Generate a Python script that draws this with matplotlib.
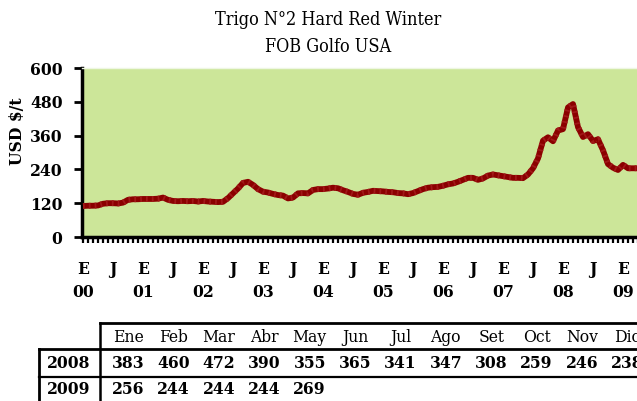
import matplotlib
matplotlib.use("Agg")
import matplotlib.pyplot as plt
from matplotlib.lines import Line2D

W, H = 637, 401

# monthly price, Jan 2000 .. May 2009 (USD/t)
prices_2000 = [110, 111, 111, 112, 118, 120, 120, 119, 122, 132, 134, 134]
prices_2001 = [135, 135, 135, 136, 140, 132, 128, 127, 128, 127, 128, 126]
prices_2002 = [128, 126, 125, 124, 125, 138, 155, 172, 192, 196, 185, 170]
prices_2003 = [161, 158, 153, 149, 147, 137, 140, 155, 156, 155, 167, 170]
prices_2004 = [170, 172, 175, 173, 166, 160, 153, 150, 157, 160, 164, 163]
prices_2005 = [162, 160, 159, 156, 155, 152, 156, 163, 170, 175, 177, 178]
prices_2006 = [182, 187, 190, 196, 203, 210, 210, 203, 208, 218, 222, 219]
prices_2007 = [216, 213, 210, 210, 209, 222, 244, 279, 342, 354, 340, 378]
prices_2008 = [383, 460, 472, 390, 355, 365, 341, 347, 308, 259, 246, 238]
prices_2009 = [256, 244, 244, 244, 269]

months = ["Ene", "Feb", "Mar", "Abr", "May", "Jun",
          "Jul", "Ago", "Set", "Oct", "Nov", "Dic"]
years = ["00", "01", "02", "03", "04", "05", "06", "07", "08", "09"]
yticks = [0, 120, 240, 360, 480, 600]

prices = (prices_2000 + prices_2001 + prices_2002 + prices_2003 + prices_2004
          + prices_2005 + prices_2006 + prices_2007 + prices_2008 + prices_2009)
idx = list(range(len(prices)))

FONT = dict(family="DejaVu Serif", stretch="condensed")
FS = 12.5


def fx(x):
    return x / W


def fy(y):
    return 1 - y / H


fig = plt.figure(figsize=(W / 100, H / 100), dpi=100)
ax = fig.add_axes([fx(82), fy(237), (683 - 82) / W, (237 - 68) / H])
ax.set_facecolor("#cce699")

ax.plot(idx, prices, color="#8b0000", lw=4.2, solid_capstyle="butt", zorder=3)
ax.plot(idx, prices, color="#a01818", lw=4.2, ls=(0, (0.3, 0.7)), zorder=4)

ax.set_xlim(-0.2, 120)
ax.set_ylim(0, 600)
ax.set_yticks(yticks)
ax.set_yticklabels([str(v) for v in yticks], fontsize=FS, fontweight="bold", **FONT)

labels = []
for m in range(121):
    if m % 12 == 0 and m // 12 < len(years):
        labels.append("E\n" + years[m // 12])
    elif m % 12 == 6 and m < 110:
        labels.append("J")
    else:
        labels.append("")
ax.set_xticks(range(121))
ax.set_xticklabels(labels, fontsize=FS, fontweight="bold", **FONT)
for t in ax.get_xticklabels():
    t.set_linespacing(1.5)

ax.tick_params(axis="x", direction="out", length=4, width=1.6, pad=13)
ax.tick_params(axis="y", direction="out", length=6, width=2, pad=8)

for s in ["left", "bottom"]:
    ax.spines[s].set_linewidth(2.5)
ax.spines["right"].set_visible(False)
ax.spines["top"].set_color("#eef6e2")
ax.spines["top"].set_linewidth(1)

fig.text(fx(18), fy(131), "USD $/t", rotation=90, ha="center", va="center",
         fontsize=FS, fontweight="bold", **FONT)
fig.text(fx(328), fy(20), "Trigo N°2 Hard Red Winter", ha="center", va="center",
         fontsize=13, **FONT)
fig.text(fx(328), fy(47), "FOB Golfo USA", ha="center", va="center",
         fontsize=13, **FONT)

# table below the chart
col_x = [128 + 45.4 * i for i in range(12)]
for x, name in zip(col_x, months):
    fig.text(fx(x), fy(337), name, ha="center", va="center",
             fontsize=FS, **FONT)
rows = [("2008", prices_2008, 363), ("2009", prices_2009, 389)]
for label, vals, y in rows:
    fig.text(fx(69), fy(y), label, ha="center", va="center",
             fontsize=FS, fontweight="bold", **FONT)
    for x, v in zip(col_x, vals):
        fig.text(fx(x), fy(y), str(v), ha="center", va="center",
                 fontsize=FS, fontweight="bold", **FONT)


def hline(y, x0, x1, lw):
    fig.add_artist(Line2D([fx(x0), fx(x1)], [fy(y), fy(y)], color="black", lw=lw))


def vline(x, y0, y1, lw):
    fig.add_artist(Line2D([fx(x), fx(x)], [fy(y0), fy(y1)], color="black", lw=lw))


hline(323, 100, W + 5, 2)
hline(349, 39, W + 5, 2)
hline(377, 39, W + 5, 1.6)
vline(100, 323, H + 5, 1.8)
vline(39, 349, H + 5, 2)

fig.savefig("out.png", dpi=100)
